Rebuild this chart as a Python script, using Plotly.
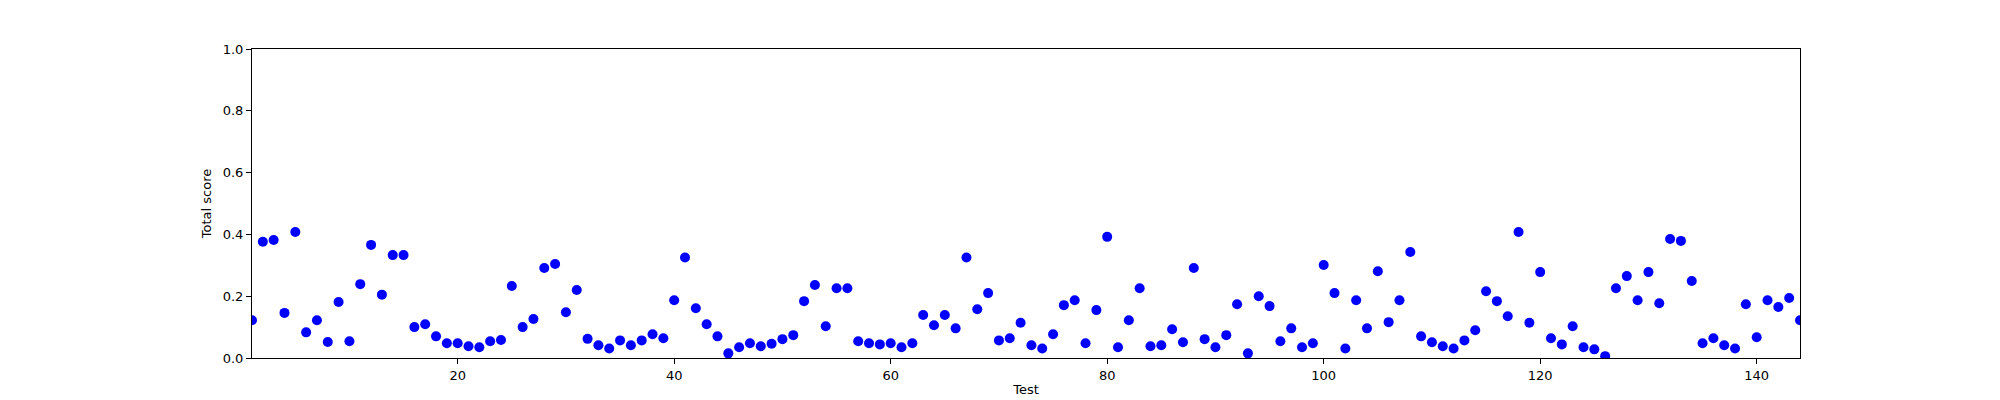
import plotly.graph_objects as go

# test numbers and the total score
tests = list(range(1, 145))
scores = [
    0.122, 0.376, 0.382, 0.146, 0.408, 0.083, 0.122, 0.052, 0.181, 0.054,
    0.239, 0.366, 0.205, 0.333, 0.333, 0.100, 0.109, 0.070, 0.048, 0.048,
    0.038, 0.035, 0.054, 0.058, 0.233, 0.100, 0.126, 0.291, 0.304, 0.148,
    0.220, 0.062, 0.041, 0.031, 0.057, 0.041, 0.057, 0.077, 0.064, 0.187,
    0.325, 0.161, 0.109, 0.070, 0.015, 0.035, 0.048, 0.038, 0.046, 0.061,
    0.074, 0.184, 0.236, 0.103, 0.226, 0.226, 0.054, 0.048, 0.044, 0.048,
    0.035, 0.048, 0.139, 0.106, 0.139, 0.096, 0.325, 0.158, 0.210, 0.057,
    0.064, 0.114, 0.041, 0.031, 0.077, 0.171, 0.187, 0.048, 0.155, 0.392,
    0.035, 0.122, 0.226, 0.038, 0.041, 0.093, 0.051, 0.291, 0.061, 0.035,
    0.074, 0.174, 0.015, 0.200, 0.168, 0.054, 0.096, 0.035, 0.048, 0.301,
    0.210, 0.031, 0.187, 0.096, 0.281, 0.116, 0.187, 0.343, 0.070, 0.051,
    0.038, 0.031, 0.057, 0.090, 0.216, 0.184, 0.135, 0.408, 0.114, 0.278,
    0.064, 0.044, 0.103, 0.035, 0.028, 0.006, 0.226, 0.265, 0.187, 0.278,
    0.177, 0.385, 0.379, 0.249, 0.048, 0.064, 0.041, 0.031, 0.174, 0.067,
    0.187, 0.165, 0.194, 0.122,
]

x_ticks = [20, 40, 60, 80, 100, 120, 140]
y_ticks = [0.0, 0.2, 0.4, 0.6, 0.8, 1.0]

fig = go.Figure(go.Scatter(
    x=tests,
    y=scores,
    mode='markers',
    marker=dict(color='#0000ff', size=10, line=dict(width=0)),
    cliponaxis=True,
))

axis_style = dict(
    showgrid=False,
    zeroline=False,
    showline=True,
    linecolor='black',
    linewidth=1,
    mirror=True,
    ticks='outside',
    ticklen=5,
    tickwidth=1,
    tickcolor='black',
    tickfont=dict(size=13, color='black'),
)

fig.update_layout(
    width=2000,
    height=400,
    margin=dict(l=244, r=208, t=41, b=50),
    paper_bgcolor='white',
    plot_bgcolor='white',
    font=dict(family='DejaVu Sans', size=13, color='black'),
    showlegend=False,
    xaxis=dict(range=[1, 144], tickvals=x_ticks,
               title=dict(text='Test', standoff=3, font=dict(size=13)),
               **axis_style),
    yaxis=dict(range=[0, 1], tickvals=y_ticks, tickformat='.1f',
               title=dict(text='Total score', standoff=8, font=dict(size=13)),
               **axis_style),
)

fig.write_html("out.html")
